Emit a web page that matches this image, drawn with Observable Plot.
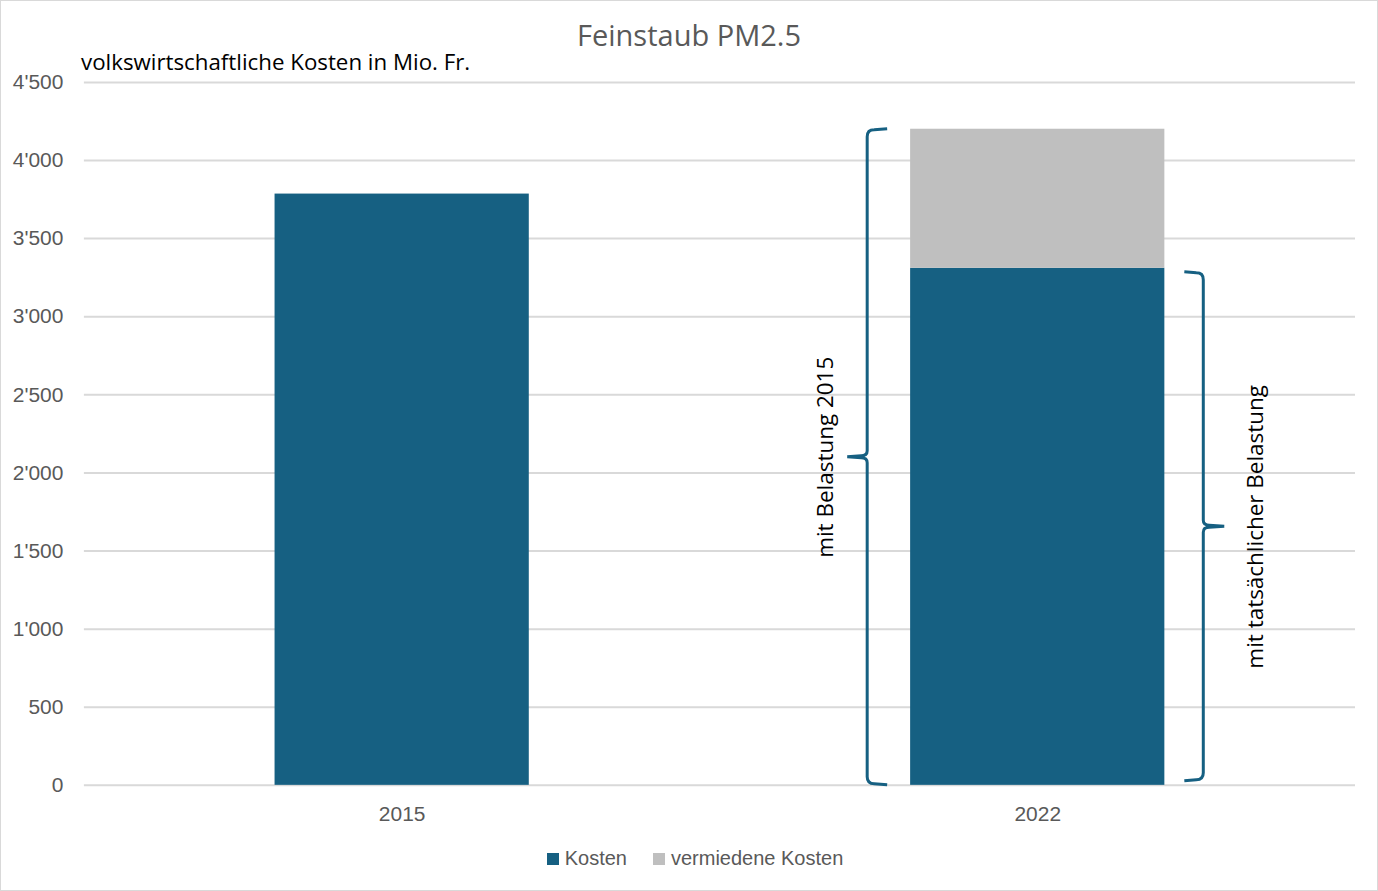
<!DOCTYPE html>
<html>
<head>
<meta charset="utf-8">
<script src="https://cdn.jsdelivr.net/npm/d3@7"></script>
<script src="https://cdn.jsdelivr.net/npm/@observablehq/plot@0.6"></script>
<style>
  html, body { margin: 0; padding: 0; background: #fff; }
  #wrap { position: relative; width: 1376px; height: 889px; border: 1px solid #d9d9d9; overflow: hidden; font-family: "Liberation Sans", Arial, sans-serif; }
  #title { position: absolute; left: 0; width: 1376px; top: 14px; text-align: center; font-family: "Open Sans", sans-serif; font-size: 29px; color: #595959; }
  #subtitle { position: absolute; left: 80px; top: 45px; font-family: "Open Sans", sans-serif; font-size: 22.3px; color: #000; }
  #chart { position: absolute; left: 0px; top: -1px; }
  #legend { position: absolute; top: 846px; left: 6px; width: 1376px; display: flex; justify-content: center; gap: 26px; font-family: "Liberation Sans", Arial, sans-serif; font-size: 20px; color: #595959; }
  #legend span.item { display: flex; align-items: center; gap: 6px; }
  #legend span.sw { width: 12px; height: 12px; display: inline-block; }
</style>
</head>
<body>
<div id="wrap">
  <div id="chart"></div>
  <div id="title"></div>
  <div id="subtitle"></div>
  <div id="legend"></div>
</div>
<script>
const title = "Feinstaub PM2.5";
const subtitle = "volkswirtschaftliche Kosten in Mio. Fr.";
const years = ["2015", "2022"];
const seriesNames = ["Kosten", "vermiedene Kosten"];
const seriesColors = ["#166082", "#bfbfbf"];
const kosten = [3785, 3310];
const vermieden = [0, 890];
const yTicks = [0, 500, 1000, 1500, 2000, 2500, 3000, 3500, 4000, 4500];
const braceLabels = ["mit Belastung 2015", "mit tatsächlicher Belastung"];

const data = [];
years.forEach((y, i) => {
  data.push({year: y, series: seriesNames[0], value: kosten[i]});
  if (vermieden[i] > 0) data.push({year: y, series: seriesNames[1], value: vermieden[i]});
});

const total2022 = kosten[1] + vermieden[1];
const braces = [
  {year: "2022", top: total2022, bottom: 0, side: "left", label: braceLabels[0]},
  {year: "2022", top: kosten[1], bottom: 0, side: "right", label: braceLabels[1]}
];

const fmt = d3.formatLocale({decimal: ".", thousands: "'", grouping: [3], currency: ["", ""]}).format(",");

document.getElementById("title").textContent = title;
document.getElementById("subtitle").textContent = subtitle;

const braceColor = "#166082";

function braceMark(index, scales, values, dimensions, context) {
  const ns = "http://www.w3.org/2000/svg";
  const g = document.createElementNS(ns, "g");
  const bwRaw = scales.x.bandwidth;
  const bw = typeof bwRaw === "function" ? bwRaw() : bwRaw;
  for (const b of braces) {
    const x0 = scales.x(b.year);
    const yTop = scales.y(b.top);
    const yBot = scales.y(b.bottom);
    const yMid = (yTop + yBot) / 2;
    let d;
    if (b.side === "left") {
      const xl = x0 - 43, xe = x0 - 23, xt = x0 - 63, r = 7;
      d = `M${xe},${yTop} L${xl + r},${yTop + 1} Q${xl},${yTop + 1} ${xl},${yTop + r + 1}` +
          ` L${xl},${yMid - 6} Q${xl},${yMid - 1} ${xl - 6},${yMid - 1} L${xt},${yMid}` +
          ` M${xt},${yMid} L${xl - 6},${yMid + 1} Q${xl},${yMid + 1} ${xl},${yMid + 6}` +
          ` L${xl},${yBot - r - 1} Q${xl},${yBot - 1} ${xl + r},${yBot - 1} L${xe},${yBot}`;
    } else {
      const x1 = x0 + bw;
      const xl = x1 + 39, xe = x1 + 20, xt = x1 + 60, r = 7;
      const yT = yTop + 4, yB = yBot - 4;
      d = `M${xe},${yT} L${xl - r},${yT + 1} Q${xl},${yT + 1} ${xl},${yT + r + 1}` +
          ` L${xl},${yMid - 6} Q${xl},${yMid - 1} ${xl + 6},${yMid - 1} L${xt},${yMid}` +
          ` M${xt},${yMid} L${xl + 6},${yMid + 1} Q${xl},${yMid + 1} ${xl},${yMid + 6}` +
          ` L${xl},${yB - r - 1} Q${xl},${yB - 1} ${xl - r},${yB - 1} L${xe},${yB}`;
    }
    const p = document.createElementNS(ns, "path");
    p.setAttribute("d", d);
    p.setAttribute("fill", "none");
    p.setAttribute("stroke", braceColor);
    p.setAttribute("stroke-width", "3");
    p.setAttribute("stroke-linejoin", "round");
    g.appendChild(p);
  }
  return g;
}

const chart = Plot.plot({
  width: 1378,
  height: 840,
  marginLeft: 83,
  marginRight: 22,
  marginTop: 82,
  marginBottom: 54,
  style: {fontFamily: "'Liberation Sans', Arial, sans-serif", fontSize: "21px", color: "#595959", background: "transparent"},
  x: {domain: years, paddingInner: 0.6, paddingOuter: 0.3, label: null, round: false},
  y: {domain: [0, 4500], label: null},
  color: {domain: seriesNames, range: seriesColors},
  marks: [
    Plot.gridY(yTicks, {stroke: "#d9d9d9", strokeOpacity: 1, strokeWidth: 2}),
    Plot.barY(data, {x: "year", y: "value", fill: "series", order: seriesNames}),
    Plot.axisY(yTicks, {tickSize: 0, tickPadding: 21, tickFormat: fmt, fill: "#595959", fontSize: 21, label: null}),
    Plot.axisX({tickSize: 0, tickPadding: 21, fill: "#595959", fontSize: 21, label: null}),
    braceMark,
    Plot.text(braces, {
      x: "year", y: d => (d.top + d.bottom) / 2, text: "label", rotate: -90,
      fill: "#000", fontSize: 22.5, fontFamily: "'Open Sans', sans-serif",
      filter: d => d.side === "left", dx: -212, dy: 0
    }),
    Plot.text(braces, {
      x: "year", y: d => (d.top + d.bottom) / 2, text: "label", rotate: -90,
      fill: "#000", fontSize: 22.5, fontFamily: "'Open Sans', sans-serif",
      filter: d => d.side === "right", dx: 218
    })
  ]
});
document.getElementById("chart").appendChild(chart);

const legend = document.getElementById("legend");
seriesNames.forEach((s, i) => {
  const item = document.createElement("span");
  item.className = "item";
  const sw = document.createElement("span");
  sw.className = "sw";
  sw.style.background = seriesColors[i];
  const t = document.createElement("span");
  t.textContent = s;
  item.appendChild(sw);
  item.appendChild(t);
  legend.appendChild(item);
});
</script>
</body>
</html>
